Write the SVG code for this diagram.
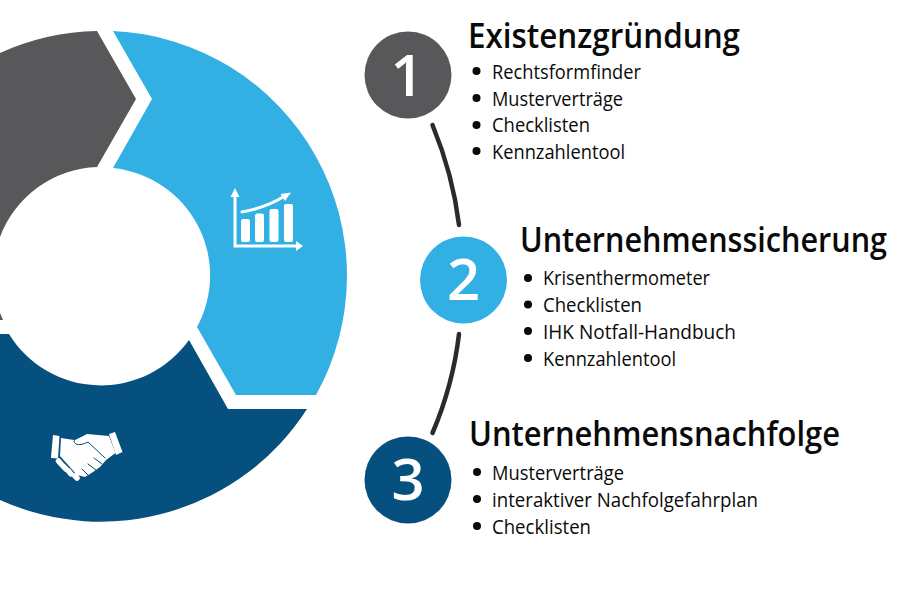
<svg xmlns="http://www.w3.org/2000/svg" width="900" height="600" viewBox="0 0 900 600">
<style>
text{font-family:"Open Sans","Noto Sans","Liberation Sans",sans-serif;fill:#0a0a0a}
.t{font-size:35px;font-weight:600}
.i{font-size:20.500px}
.n{font-size:58px;font-weight:600;fill:#fff;text-anchor:middle}
.b{fill:#0a0a0a}
.c{fill:none;stroke:#2b2b2b;stroke-width:4.500;stroke-linecap:round}
.w{fill:#fff}
.ws{fill:none;stroke:#fff;stroke-linecap:round}
.gray{fill:#58585a}.blue{fill:#32b0e4}.navy{fill:#05507f}
</style>
<rect width="900" height="600" fill="#fff"/>
<g id="ring">
<path id="seg-gray" class="gray" d="M97,31 L136,99 L97,167 A108,108 0 0 0 0,237 L0,53 A245,245 0 0 1 97,31 Z"/>
<path id="seg-gray-tip" class="gray" d="M0,313 L3,320 L0,320 Z"/>
<path id="seg-blue" class="blue" d="M113,31 A245,245 0 0 1 316,395 L236,395 L197,327 A108,108 0 0 0 113,168 L152,99 Z"/>
<path id="seg-navy" class="navy" d="M0,334 L9,334 A108,108 0 0 0 189,340 L228,409 L307,409 A245,245 0 0 1 0,500 Z"/>
</g>
<g id="icon-chart">
<path class="w" d="M235,188 L239.500,197 L236.500,197 L236.500,244.500 L296,244.500 L296,241 L303,246 L296,251 L296,247.500 L233.500,247.500 L233.500,197 L230.500,197 Z"/>
<rect class="w" x="241" y="219" width="9" height="23" rx="2"/>
<rect class="w" x="255" y="213.500" width="9" height="28.500" rx="2"/>
<rect class="w" x="269.500" y="209" width="9" height="33" rx="2"/>
<rect class="w" x="284" y="204" width="9" height="38" rx="2"/>
<path class="ws" stroke-width="3" d="M242,212 Q265,208 284,196.500"/>
<path class="w" d="M291,192.500 L285,201 L280.500,194 Z"/>
</g>
<g id="icon-handshake">
<path class="w" d="M53,435 L59.500,436 L58,458.500 L51.500,458 Q51,458 51,457 Z"/>
<path class="w" d="M109,434 L115,432 L122.500,452 L116,455 Z"/>
<path class="w" d="M61,438 L74,440 L87,434 L109,436 L115.500,453 L106,460 L100,467 L93,472 L85,477 L77,475 L60,456 Z"/>
<g stroke-linecap="round" fill="none">
<path stroke="#05507f" stroke-width="1" d="M105,458 L88,442 Q80,446 76,444 Q72,441 76,439 L84,435"/>
<path stroke="#05507f" stroke-width="1" d="M94,458 L102,464 M88,464 L96,470 M82,469 L88,475"/>
<path stroke="#fff" stroke-width="5.500" d="M58.500,461 L61,464"/>
<path stroke="#fff" stroke-width="5.500" d="M63,466 L66,469"/>
<path stroke="#fff" stroke-width="5.500" d="M68.500,471 L71,474"/>
<path stroke="#fff" stroke-width="5.500" d="M75,476 L77,478"/>
</g>
</g>
<g id="connectors">
<path class="c" d="M432.500,125 Q453,175 459,225"/>
<path class="c" d="M459,334 Q453,385 432.500,433"/>
</g>
<g id="node-1">
<circle class="gray" cx="408" cy="75" r="43.500"/>
<text class="n" x="407" y="96">1</text>
<text class="t" x="468" y="48" textLength="272" lengthAdjust="spacingAndGlyphs">Existenzgründung</text>
<circle class="b" cx="476.500" cy="71" r="4"/><text class="i" x="492" y="79" textLength="149" lengthAdjust="spacingAndGlyphs">Rechtsformfinder</text>
<circle class="b" cx="476.500" cy="98" r="4"/><text class="i" x="492" y="106" textLength="131" lengthAdjust="spacingAndGlyphs">Musterverträge</text>
<circle class="b" cx="476.500" cy="125" r="4"/><text class="i" x="492" y="132" textLength="98" lengthAdjust="spacingAndGlyphs">Checklisten</text>
<circle class="b" cx="476.500" cy="151" r="4"/><text class="i" x="492" y="159" textLength="133" lengthAdjust="spacingAndGlyphs">Kennzahlentool</text>
</g>
<g id="node-2">
<circle class="blue" cx="463.500" cy="280" r="43.500"/>
<text class="n" x="463.500" y="300">2</text>
<text class="t" x="520" y="252" textLength="367" lengthAdjust="spacingAndGlyphs">Unternehmenssicherung</text>
<circle class="b" cx="528" cy="278" r="4"/><text class="i" x="543" y="285" textLength="167" lengthAdjust="spacingAndGlyphs">Krisenthermometer</text>
<circle class="b" cx="528" cy="304.500" r="4"/><text class="i" x="543" y="312" textLength="99" lengthAdjust="spacingAndGlyphs">Checklisten</text>
<circle class="b" cx="528" cy="331" r="4"/><text class="i" x="543" y="339" textLength="193" lengthAdjust="spacingAndGlyphs">IHK Notfall-Handbuch</text>
<circle class="b" cx="528" cy="358" r="4"/><text class="i" x="543" y="366" textLength="133" lengthAdjust="spacingAndGlyphs">Kennzahlentool</text>
</g>
<g id="node-3">
<circle class="navy" cx="408" cy="480" r="43.500"/>
<text class="n" x="408" y="500">3</text>
<text class="t" x="469" y="446" textLength="371" lengthAdjust="spacingAndGlyphs">Unternehmensnachfolge</text>
<circle class="b" cx="477" cy="472" r="4"/><text class="i" x="492" y="480" textLength="132" lengthAdjust="spacingAndGlyphs">Musterverträge</text>
<circle class="b" cx="477" cy="499" r="4"/><text class="i" x="492" y="507" textLength="266" lengthAdjust="spacingAndGlyphs">interaktiver Nachfolgefahrplan</text>
<circle class="b" cx="477" cy="526" r="4"/><text class="i" x="492" y="534" textLength="99" lengthAdjust="spacingAndGlyphs">Checklisten</text>
</g>
</svg>
